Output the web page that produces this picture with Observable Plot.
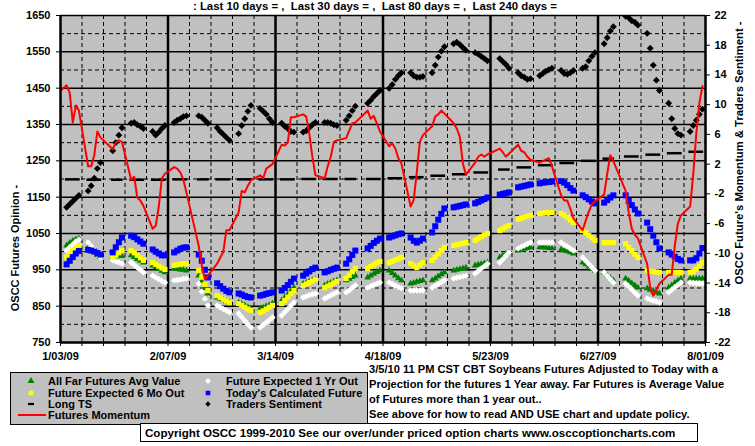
<!DOCTYPE html>
<html><head><meta charset="utf-8">
<script src="https://cdn.jsdelivr.net/npm/d3@7"></script>
<script src="https://cdn.jsdelivr.net/npm/@observablehq/plot@0.6"></script>
<style>
body{margin:0;background:#fff;}
#wrap{position:relative;width:755px;height:446px;overflow:hidden;font-family:"Liberation Sans",Arial,sans-serif;font-weight:bold;color:#000;}
#chart{position:absolute;left:0;top:0;}
.abs{position:absolute;white-space:nowrap;}
</style></head><body>
<div id="wrap">
<div id="chart"></div>
<div class="abs" style="left:0;width:750px;top:0;text-align:center;font-size:11.4px;line-height:13px;">: Last 10 days = ,&nbsp; Last 30 days = ,&nbsp; Last 80 days = ,&nbsp; Last 240 days =</div>
<div class="abs" id="ltitle" style="left:15px;top:248px;font-size:11px;transform:translate(-50%,-50%) rotate(-90deg);">OSCC Futures Opinion -</div>
<div class="abs" id="rtitle" style="left:739px;top:153px;font-size:11.3px;transform:translate(-50%,-50%) rotate(-90deg);">OSCC Future's Momentum &amp; Traders Sentiment -</div>
<div class="abs" id="legend" style="left:10px;top:372px;width:356px;height:51px;background:#c0c0c0;border:1px solid #000;"></div>
<div class="abs" id="note" style="left:369px;top:362px;font-size:11.1px;line-height:15px;">3/5/10 11 PM CST CBT Soybeans Futures Adjusted to Today with a<br>Projection for the futures 1 Year away. Far Futures is Average Value<br>of Futures more than 1 year out..<br>See above for how to read AND USE chart and update policy.</div>
<div class="abs" id="copy" style="left:140px;top:423px;width:552px;height:17px;background:#fff;border:1px solid #000;font-size:11.6px;line-height:17px;padding-left:4px;box-sizing:content-box;">Copyright OSCC 1999-2010 See our over/under priced option charts www.osccoptioncharts.com</div>
</div>
<script>
// ---------- data (weekly groups of trading days, Jan 2 2009 .. Jul 31 2009) ----------
const firstDay = "2009-01-02", lastDay = "2009-07-31";
const holidays = ["2009-01-19","2009-02-16","2009-04-10","2009-05-25","2009-07-03"];

// Today's Calculated Future (left axis)
const todaysCalc = [[960],[965,975,985,995,1002],[1005,1003,1000,996,992],[998,1012,1026,1039],[1044,1040,1034,1028,1022],[1006,1000,995,990,990],[998,1003,1008,1011,1012],[992,975,950,929],[913,905,898,892,888],[885,882,878,875,874],[879,881,884,886,888],[893,900,908,917,926],[934,940,946,952,956],[943,946,950,953,956],[967,979,991,1003],[1009,1016,1024,1030,1036],[1039,1042,1045,1048,1050],[1039,1030,1025,1030,1036],[1053,1070,1088,1104,1119],[1122,1124,1126,1128,1130],[1133,1137,1141,1145,1149],[1157,1159,1161,1163],[1177,1179,1181,1183,1185],[1188,1190,1191,1192,1193],[1194,1190,1183,1175,1168],[1155,1150,1144,1138,1133],[1135,1142,1149,1155],[1155,1140,1128,1116,1105],[1080,1062,1044,1026,1009],[998,992,986,980,976],[976,976,982,995,1010]];
// Future Expected 6 Mo Out
const sixMonth = [[980],[985,995,1005,1012,1017],[1003,1000,997,995,993],[984,990,997,1003],[1003,997,990,983,976],[970,965,960,955,951],[962,964,966,967,967],[948,930,910,893],[879,874,869,864,860],[857,852,847,842,838],[833,837,842,847,852],[857,866,875,884,893],[907,911,915,919,923],[901,905,909,914,918],[926,935,945,954],[954,959,964,969,973],[970,973,977,980,984],[967,961,956,963,970],[976,985,994,1003,1012],[1017,1019,1021,1023,1025],[1031,1036,1041,1046,1050],[1058,1063,1068,1072],[1089,1092,1095,1098,1100],[1105,1106,1107,1108,1108],[1105,1100,1094,1087,1080],[1058,1052,1045,1038,1031],[1025,1025,1025,1025],[1022,1012,1003,993,984],[948,946,945,944,943],[943,943,943,943,943],[943,945,952,960,970]];
// All Far Futures Avg Value
const farAvg = [[1012],[1017,1024,1030,1034,1036],[1012,1005,998,991,985],[985,987,988,988],[990,985,980,975,970],[962,957,952,947,943],[954,953,951,950,948],[934,918,900,885],[874,870,867,863,860],[860,856,852,847,843],[843,846,850,853,857],[865,874,883,892,901],[912,915,918,921,923],[907,911,914,918,921],[921,925,930,934],[929,934,939,944,948],[948,941,934,927,921],[912,914,917,919,921],[921,926,932,938,943],[948,950,952,954,956],[962,964,966,968,970],[984,989,994,998],[1003,1005,1008,1010,1012],[1012,1012,1011,1010,1009],[1006,1003,1001,998,995],[970,965,959,953,948],[943,935,928,921],[926,920,913,907,901],[899,895,892,888,885],[901,907,914,920,926],[926,926,926,926,926]];
// Future Expected 1 Yr Out
const oneYear = [[1000],[1003,1012,1020,1028,1033],[1025,1015,1004,994,984],[976,973,970,967],[970,963,956,950,943],[934,929,924,919,915],[921,922,923,925,926],[912,890,870,852],[852,847,842,838,833],[830,820,810,800,791],[791,798,805,812,819],[824,833,842,851,860],[874,877,880,883,885],[871,875,880,884,888],[888,894,901,907],[901,905,908,912,915],[915,911,907,903,899],[893,893,893,893,893],[901,906,911,916,921],[926,928,930,932,934],[940,947,954,960,967],[970,979,989,998],[1009,1013,1017,1021,1025],[1025,1025,1025,1025,1025],[1025,1019,1014,1008,1003],[984,975,966,957,948],[943,933,924,915],[912,904,896,887,879],[871,868,865,863,860],[888,895,902,908,915],[915,914,913,913,912]];
// Long TS, one value per week
const longTS = [1199,1199,1198,1198,1198,1198,1199,1199,1199,1199,1199,1199,1200,1200,1200,1200,1202,1205,1209,1213,1218,1226,1232,1238,1244,1250,1256,1262,1267,1271,1275];
// Traders Sentiment (right axis)
const sentiment = [[-4.9],[-3.8,-3.4,-3.0,-2.6,-2.2],[-1.6,-0.9,0.1,1.4,2.2],[3.8,4.9,5.9,6.9],[7.5,7.6,7.3,7.1,6.8],[6.4,5.9,6.3,6.8,7.2],[7.6,7.9,8.1,8.4,8.5],[8.5,8.3,7.9,7.5],[6.9,6.4,6.0,5.6,5.2],[6.1,7.2,8.1,9.1,9.9],[9.5,9.1,8.7,8.1,7.6],[7.5,7.1,6.8,6.4,6.3],[6.3,6.5,6.9,7.3,7.6],[7.6,7.6,7.5,7.3,7.2],[7.9,8.5,9.2,9.8],[10.2,10.6,11.1,11.5,11.9],[12.2,12.7,13.4,13.9,14.3],[14.3,13.9,13.7,13.7,13.8],[14.3,15.3,16.4,17.2,17.8],[18.2,18.4,18.1,17.7,17.3],[17.0,16.8,16.5,16.2,15.9],[16.2,15.8,15.4,14.9],[14.3,13.9,13.7,13.4,13.5],[13.9,14.2,14.5,14.7,14.9],[14.6,14.2,14.1,14.3,14.6],[14.9,15.1,15.9,16.5,17.0],[18.2,19.0,19.9,20.5],[21.9,21.7,21.3,21.1,20.7],[19.6,17.6,15.3,13.3,11.9],[10.2,8.1,6.8,6.1,5.9],[6.4,7.2,7.9,8.7,9.4]];
// Futures Momentum (right axis)
const momentum = [[11.5],[12.6,11.6,7.6,9.9,9.2],[1.7,1.7,3.2,6.4,5.6],[4.0,4.9,5.2,5.0],[-0.1,0.3,-2.5,-2.9,-3.6],[-6.7,-6.3,-3.7,0.1,0.7],[1.6,1.4,0.9,-0.1,-1.8],[-9.0,-11.6,-13.5,-13.0],[-11.4,-10.6,-9.8,-6.9,-6.9],[-4.5,-1.6,-1.8,-0.9,-0.2],[0.5,0.1,1.4,1.7,2.0],[4.6,4.5,4.9,8.3,8.3],[8.7,8.4,6.1,3.0,0.5],[0.1,1.7,3.0,5.0,5.2],[5.5,6.5,7.5,7.6],[9.2,8.1,8.5,7.5,6.4],[4.4,4.8,4.1,2.8,2.1],[-3.7,-2.8,0.9,5.0,5.9],[7.1,8.4,8.7,9.2,8.8],[7.5,6.8,5.7,2.1,0.6],[2.2,3.0,3.3,3.0,3.3],[4.1,3.6,3.0,3.4],[4.6,3.8,3.6,3.0,2.6],[2.2,2.4,2.6,2.8,1.7],[-2.2,-2.9,-2.9,-4.0,-5.3],[-6.9,-5.6,-4.4,-3.4,-3.0],[-2.1,0.7,3.2,2.4],[-1.6,-4.5,-6.7,-7.5,-8.0],[-11.4,-14.7,-15.7,-14.9,-14.1],[-12.9,-12.9,-9.0,-6.0,-4.9],[-3.7,0.6,6.1,10.2,12.5]];

const leftTicks = [750,850,950,1050,1150,1250,1350,1450,1550,1650];
const leftSolid = [850,950,1050,1150,1250,1350,1450,1550,1650];
const leftDashed = [800,900,1000,1100,1200,1300,1400,1500,1600];
const rightTicks = [22,18,14,10,6,2,-2,-6,-10,-14,-18,-22];
const xStart = "2009-01-03", xEnd = "2009-08-01";
const xLabelDates = ["2009-01-03","2009-02-07","2009-03-14","2009-04-18","2009-05-23","2009-06-27","2009-08-01"];

// ---------- build tables ----------
const fmtDay = d3.utcFormat("%Y-%m-%d");
const allDays = d3.utcDay.range(new Date(firstDay), d3.utcDay.offset(new Date(lastDay), 1));
const tradingDays = allDays.filter(d => d.getUTCDay() >= 1 && d.getUTCDay() <= 5 && !holidays.includes(fmtDay(d)));
const weeks = d3.groups(tradingDays, d => +d3.utcMonday.floor(d)).map(g => g[1]);
for (const [name, s] of Object.entries({todaysCalc, sixMonth, farAvg, oneYear, sentiment, momentum})) {
  if (s.length !== weeks.length) throw new Error(name + " weeks " + s.length + " vs " + weeks.length);
  s.forEach((w, k) => { if (w.length !== weeks[k].length) throw new Error(name + " week " + k + " has " + w.length + " vs " + weeks[k].length); });
}
if (longTS.length !== weeks.length) throw new Error("longTS length");
const toL = v => 1200 + v * 450 / 22;
const fromL = y => (y - 1200) * 22 / 450;
const rows = [];
weeks.forEach((days, k) => days.forEach((date, i) => rows.push({
  date, calc: todaysCalc[k][i], six: sixMonth[k][i], far: farAvg[k][i], one: oneYear[k][i],
  sent: toL(sentiment[k][i]), mom: toL(momentum[k][i])
})));
const tsRows = weeks.map((days, k) => ({x1: days[0], x2: days[days.length - 1], y: longTS[k]}));

const x0 = new Date(xStart), x1 = new Date(xEnd);
const labelDates = xLabelDates.map(s => new Date(s));
const isLabel = d => labelDates.some(l => +l === +d);
const saturdays = d3.utcSaturday.range(x0, d3.utcDay.offset(x1, 1));

const dashSym = {draw(ctx, size) { const s = Math.sqrt(size); const w = s * 1.9, h = s * 0.7; ctx.rect(-w / 2, -h / 2, w, h); }};

const chart = Plot.plot({
  width: 755, height: 446,
  marginLeft: 60, marginRight: 50, marginTop: 15, marginBottom: 104,
  x: {type: "utc", domain: [x0, x1]},
  y: {domain: [750, 1650]},
  style: {fontFamily: '"Liberation Sans", Arial, sans-serif', fontSize: "11px", fontWeight: "bold", background: "transparent", overflow: "visible", color: "#000"},
  marks: [
    Plot.frame({fill: "#c0c0c0", stroke: "none"}),
    Plot.ruleY(leftDashed, {stroke: "#000", strokeWidth: 1, strokeDasharray: "4,3"}),
    Plot.ruleX(saturdays.filter(d => !isLabel(d)), {stroke: "#000", strokeWidth: 1, strokeDasharray: "4,3"}),
    Plot.ruleY(leftSolid, {stroke: "#000", strokeWidth: 1.5}),
    Plot.ruleX(labelDates.slice(1, -1), {stroke: "#000", strokeWidth: 2.5}),
    Plot.dot(rows, {x: "date", y: "far", symbol: "triangle", r: 2.5, fill: "#008000", clip: true}),
    Plot.dot(rows, {x: "date", y: "one", symbol: "diamond2", r: 2.9, fill: "#ffffff", clip: true}),
    Plot.dot(rows, {x: "date", y: "six", symbol: "square", r: 2.9, fill: "#ffff00", clip: true}),
    Plot.dot(rows, {x: "date", y: "calc", symbol: "square", r: 3.4, fill: "#0000ff", clip: true}),
    Plot.ruleY(tsRows, {y: "y", x1: "x1", x2: "x2", stroke: "#000", strokeWidth: 2.5, strokeLinecap: "square", clip: true}),
    Plot.dot(rows, {x: "date", y: "sent", symbol: "diamond2", r: 3.1, fill: "#000", clip: true}),
    Plot.line(rows, {x: "date", y: "mom", stroke: "#ff0000", strokeWidth: 2, clip: true}),
    Plot.ruleX([x0, x1], {stroke: "#000", strokeWidth: 2.5}),
    Plot.ruleY([750], {stroke: "#000", strokeWidth: 2.5}),
    Plot.axisY(leftTicks, {anchor: "left", tickSize: 4, tickPadding: 6, tickFormat: d => String(d), label: null}),
    Plot.axisY(rightTicks.map(toL), {anchor: "right", tickSize: 4, tickPadding: 5, tickFormat: d => String(Math.round(fromL(d))), label: null}),
    Plot.axisX(saturdays, {tickSize: 4, tickFormat: () => "", label: null}),
    Plot.axisX(labelDates, {tickSize: 0, tickPadding: 10, tickFormat: d3.utcFormat("%-m/%d/%y"), label: null})
  ]
});
document.getElementById("chart").appendChild(chart);

// ---------- legend ----------
const legendItems = [
  {label: "All Far Futures Avg Value", col: 0, row: 0, type: d3.symbolTriangle, r: 2.5, fill: "#008000"},
  {label: "Future Expected 6 Mo Out", col: 0, row: 1, type: d3.symbolSquare, r: 2.6, fill: "#ffff00"},
  {label: "Long TS", col: 0, row: 2, type: dashSym, r: 1.8, fill: "#000"},
  {label: "Futures Momentum", col: 0, row: 3, line: true},
  {label: "Future Expected 1 Yr Out", col: 1, row: 0, type: d3.symbolDiamond2, r: 2.6, fill: "#ffffff"},
  {label: "Today's Calculated Future", col: 1, row: 1, type: d3.symbolSquare, r: 2.6, fill: "#0000ff"},
  {label: "Traders Sentiment", col: 1, row: 2, type: d3.symbolDiamond2, r: 2.4, fill: "#000"}
];
const lg = d3.select("#legend").append("svg").attr("width", 356).attr("height", 51)
  .style("position", "absolute").style("left", 0).style("top", 0)
  .style("font-family", '"Liberation Sans", Arial, sans-serif').style("font-size", "11px").style("font-weight", "bold");
const colSym = [20, 197], colText = [37, 215], rowY = [8, 20, 31, 42];
for (const it of legendItems) {
  const y = rowY[it.row];
  if (it.line) {
    lg.append("line").attr("x1", 7).attr("x2", 35).attr("y1", y).attr("y2", y).attr("stroke", "#ff0000").attr("stroke-width", 2);
  } else {
    lg.append("path").attr("transform", `translate(${colSym[it.col]},${y})`)
      .attr("d", d3.symbol().type(it.type).size(Math.PI * it.r * it.r)()).attr("fill", it.fill);
  }
  lg.append("text").attr("x", colText[it.col]).attr("y", y).attr("dy", "0.36em").text(it.label);
}
</script>
</body></html>
